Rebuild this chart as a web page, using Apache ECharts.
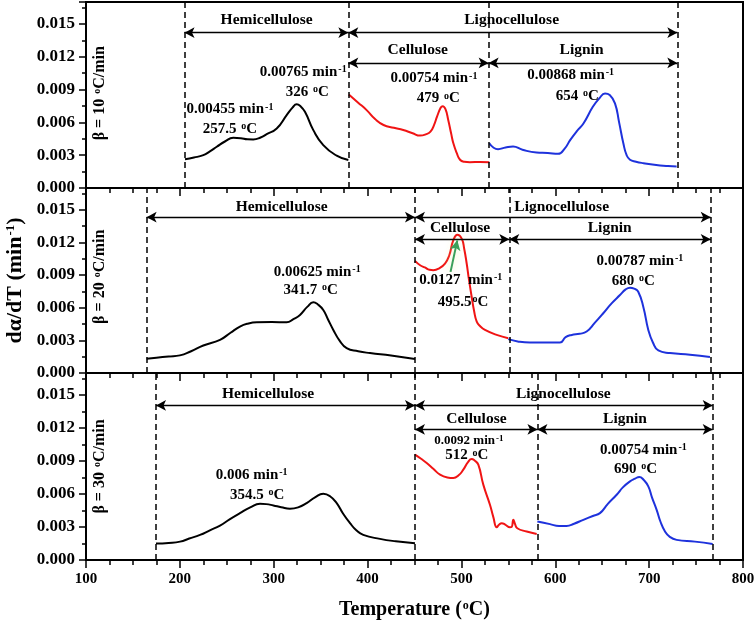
<!DOCTYPE html>
<html>
<head>
<meta charset="utf-8">
<script src="https://cdn.jsdelivr.net/npm/echarts@6/dist/echarts.min.js"></script>
<style>html,body{margin:0;padding:0;background:#fff}#c{width:756px;height:628px}</style>
</head>
<body>
<div id="c"></div>
<script>
// ---------- data ----------
const panelRates = ['β = 10 {s|o}C/min', 'β = 20 {s|o}C/min', 'β = 30 {s|o}C/min'];
const yTickValues = [0, 0.003, 0.006, 0.009, 0.012, 0.015];

// Panel 1 (10 °C/min)
const p1Hemi = [[205.5,0.00262],[215,0.00278],[225,0.00301],[232,0.00335],[239.3,0.00377],[248,0.00425],[256.9,0.00459],[265,0.00455],[272,0.00445],[278.2,0.00444],[286,0.00462],[292.5,0.00492],[303.2,0.00544],[313.8,0.00666],[320,0.00735],[324.5,0.00766],[328,0.00752],[333.3,0.00696],[342.2,0.00529],[352.8,0.00392],[367.1,0.00295],[379.5,0.00255]];
const p1Cell = [[380,0.00855],[390,0.0078],[399,0.00712],[408,0.0063],[417,0.00576],[428,0.0055],[438,0.0053],[448,0.005],[456,0.00479],[462,0.0049],[467,0.00515],[471,0.0058],[474,0.00652],[478,0.00735],[480,0.00748],[483,0.0072],[486,0.0062],[489,0.005],[491.4,0.00409],[495,0.0032],[498.5,0.00258],[503,0.0024],[509,0.00236],[520,0.00238],[529.7,0.00236]];
const p1Lig = [[529.7,0.00409],[534,0.0037],[539,0.00355],[547,0.0037],[555,0.00379],[565,0.0035],[580,0.00324],[592,0.0032],[603,0.00312],[610,0.0036],[616,0.0044],[623,0.0052],[630,0.0059],[640,0.00742],[647,0.0082],[653,0.00864],[658,0.0085],[663.6,0.00773],[668,0.006],[672.5,0.00409],[676,0.003],[679.6,0.00258],[686,0.0024],[694,0.00227],[711.6,0.00206],[720,0.002],[729.3,0.00197]];
const p1Bounds = [205, 379.5, 529, 730];

// Panel 2 (20 °C/min)
const p2Hemi = [[164.6,0.0013],[175,0.0014],[188,0.00152],[200,0.00162],[212,0.002],[225,0.00253],[242.8,0.00305],[254,0.0037],[264,0.00427],[273,0.00455],[282,0.00466],[298,0.00468],[313.8,0.00466],[321,0.00495],[328,0.00534],[336,0.0061],[342.2,0.0065],[347,0.0063],[352.8,0.00579],[358,0.0049],[363.5,0.00396],[370,0.003],[377.7,0.00229],[390,0.002],[402.6,0.00183],[425,0.0016],[450.5,0.00128]];
const p2Cell = [[450.5,0.0103],[456,0.0099],[461,0.0097],[466,0.00948],[470,0.00945],[476,0.0096],[482.5,0.01006],[487,0.0108],[491.4,0.0122],[495.6,0.01271],[500.3,0.01235],[503,0.0114],[505.6,0.01006],[508,0.0086],[510.9,0.00701],[513.5,0.0057],[516.3,0.00473],[520,0.0043],[525.1,0.00396],[537.5,0.0035],[549.9,0.0032]];
const p2Lig = [[549.9,0.00311],[560,0.0029],[573,0.0028],[590,0.0028],[605,0.0028],[611,0.0033],[617.5,0.0035],[626,0.0036],[633.4,0.00381],[642,0.0046],[651.1,0.00549],[660,0.0064],[668.9,0.00716],[675,0.00768],[679.6,0.00784],[684,0.00775],[688.4,0.00747],[694,0.006],[699.1,0.00396],[704,0.0028],[709.8,0.00207],[722.2,0.00183],[743.5,0.00168],[764.8,0.00146]];
const p2Bounds = [164.6, 450.5, 551, 765.6];

// Panel 3 (30 °C/min)
const p3Hemi = [[174.6,0.0015],[188,0.00155],[200.2,0.00167],[210,0.00195],[221.5,0.00228],[232,0.0027],[242.8,0.00313],[253,0.0037],[264,0.00426],[275,0.00478],[285.4,0.00511],[292,0.00508],[299.6,0.00496],[308,0.0048],[317.3,0.00466],[326,0.00478],[335.1,0.00517],[344,0.0057],[352.8,0.00602],[360,0.0058],[367.1,0.00517],[374,0.0042],[381.3,0.00335],[388,0.0027],[395.4,0.00228],[413.2,0.00192],[430,0.0017],[450.5,0.00152]];
const p3Cell = [[450.5,0.00958],[457,0.0092],[463,0.00882],[470,0.0083],[477.2,0.00776],[485,0.0075],[491.4,0.00745],[497,0.0077],[502,0.00821],[507,0.0089],[510.9,0.00919],[514,0.00905],[518,0.00867],[523.3,0.00685],[530.4,0.00502],[534,0.0039],[537.6,0.00298],[540,0.0032],[542.9,0.00335],[547,0.0032],[551.7,0.00298],[553.5,0.003],[555.3,0.00365],[557,0.0033],[559.5,0.00289],[569.5,0.00259],[580.2,0.00237]];
const p3Lig = [[580.9,0.0035],[594.3,0.00326],[604,0.0031],[612.1,0.0031],[620,0.0033],[629.9,0.00365],[640,0.004],[647.6,0.00426],[656,0.0051],[665.4,0.00593],[672,0.0066],[679.6,0.00715],[685,0.0074],[689.5,0.00755],[694,0.0073],[699.1,0.00669],[703,0.0057],[708,0.00456],[712,0.0035],[716.9,0.00259],[722,0.0021],[729.3,0.00183],[748.8,0.00167],[767.7,0.00146]];
const p3Bounds = [174.6, 450.5, 581, 767.7];

// bracket levels: [outer arrow y, inner arrow y]
const p1Levels = [0.0142, 0.01143];
const p2Levels = [0.01432, 0.01228];
const p3Levels = [0.01405, 0.01187];

// region names [x, y, text]
const p1Regions = [[292.5,0.01532,'Hemicellulose'],[553.5,0.01532,'Lignocellulose'],[453.4,0.01258,'Cellulose'],[628,0.01258,'Lignin']];
const p2Regions = [[308.5,0.01524,'Hemicellulose'],[606.8,0.01524,'Lignocellulose'],[498.5,0.01332,'Cellulose'],[658,0.01332,'Lignin']];
const p3Regions = [[294,0.01506,'Hemicellulose'],[608.5,0.01506,'Lignocellulose'],[516,0.01278,'Cellulose'],[674.3,0.01278,'Lignin']];

// peak annotations [x, y, text]
const p1Notes = [[253.4,0.00718,'0.00455 min{s|-1}'],[253.4,0.00538,'257.5 {s|o}C'],[331.5,0.0106,'0.00765 min{s|-1}'],[335.8,0.00878,'326 {s|o}C'],[470.8,0.0100,'0.00754 min{s|-1}'],[475.4,0.00818,'479 {s|o}C'],[616.4,0.0103,'0.00868 min{s|-1}'],[623.5,0.00842,'654 {s|o}C']];
const p2Notes = [[346.4,0.00929,'0.00625 min{s|-1}'],[339.4,0.00762,'341.7 {s|o}C'],[499.2,0.00853,'0.0127  min{s|-1}'],[501.7,0.00655,'495.5{s|o}C'],[690.2,0.0103,'0.00787 min{s|-1}'],[683.1,0.00847,'680 {s|o}C']];
const p3Notes = [[276.5,0.00776,'0.006 min{s|-1}'],[282.5,0.00593,'354.5 {s|o}C'],[508,0.01086,'0.0092 min{s|-1}',13],[505.6,0.00949,'512 {s|o}C'],[693.8,0.00998,'0.00754 min{s|-1}'],[685.6,0.00828,'690 {s|o}C']];
const p2Pointer = [[488.4,0.00929],[495.6,0.01219]];

const ratePos = [[114.9,0.00866],[114.9,0.00884],[114.9,0.0085]];

// ---------- chart ----------
const FONT = 'Liberation Serif';
const YMAX = 0.017;
const supStyle = (size) => ({fontSize: size, fontWeight: 'bold', fontFamily: FONT, color: '#000', verticalAlign: 'top', textBorderWidth: 0, padding: [0, 0, 0, 1]});
const rich = {s: supStyle(10)};
const gridsPos = [{top: 2, height: 186}, {top: 188, height: 185}, {top: 373, height: 187}];

const panels = [
  {hemi: p1Hemi, cell: p1Cell, lig: p1Lig, bounds: p1Bounds, levels: p1Levels, regions: p1Regions, notes: p1Notes},
  {hemi: p2Hemi, cell: p2Cell, lig: p2Lig, bounds: p2Bounds, levels: p2Levels, regions: p2Regions, notes: p2Notes},
  {hemi: p3Hemi, cell: p3Cell, lig: p3Lig, bounds: p3Bounds, levels: p3Levels, regions: p3Regions, notes: p3Notes}
];

const grid = gridsPos.map(g => ({left: 86, right: 13, top: g.top, height: g.height, show: true, borderColor: '#000', borderWidth: 2, backgroundColor: 'transparent', containLabel: false, outerBoundsMode: 'none'}));

const xAxis = gridsPos.map((g, i) => ({
  type: 'value', gridIndex: i, min: 100, max: 800, interval: 100,
  axisLine: {show: true, lineStyle: {color: '#000', width: 2}},
  axisTick: {show: true, length: 8, lineStyle: {color: '#000', width: 1.5}},
  minorTick: {show: true, splitNumber: 4, length: 5, lineStyle: {color: '#000', width: 1.5}},
  splitLine: {show: false},
  axisLabel: {show: i === 2, margin: 12, fontFamily: FONT, fontWeight: 'bold', fontSize: 15, color: '#000'},
  name: i === 2 ? 'Temperature ({s|o}C)' : '',
  nameLocation: 'middle', nameGap: 40,
  nameTextStyle: {fontFamily: FONT, fontWeight: 'bold', fontSize: 20, color: '#000', rich: {s: supStyle(12)}}
}));

const yAxis = gridsPos.map((g, i) => ({
  type: 'value', gridIndex: i, min: 0, max: YMAX, interval: 0.003,
  axisLine: {show: true, lineStyle: {color: '#000', width: 2}},
  axisTick: {show: true, length: 7, lineStyle: {color: '#000', width: 1.5}},
  minorTick: {show: true, splitNumber: 2, length: 4, lineStyle: {color: '#000', width: 1.5}},
  splitLine: {show: false},
  axisLabel: {showMaxLabel: false, margin: 11, fontFamily: FONT, fontWeight: 'bold', fontSize: 17, color: '#000',
    formatter: v => yTickValues.some(t => Math.abs(t - v) < 1e-9) ? v.toFixed(3) : ''},
  name: i === 1 ? 'dα/dT (min{s|-1})' : '',
  nameLocation: 'middle', nameGap: 57,
  nameTextStyle: {fontFamily: FONT, fontWeight: 'bold', fontSize: 22, color: '#000', rich: {s: supStyle(13)}}
}));

const series = [];
const lineBase = (i, data, color) => ({
  type: 'line', xAxisIndex: i, yAxisIndex: i, data, showSymbol: false, smooth: 0.5,
  lineStyle: {color, width: 2}, itemStyle: {color}, z: 3, silent: true
});
const labelBase = (fontSize) => ({show: true, position: 'inside', formatter: p => p.name, fontFamily: FONT, fontWeight: 'bold', fontSize, color: '#000', opacity: 1, textBorderWidth: 0, textBorderColor: 'transparent', rich});
const textSeries = (i, items, fontSize, extraLabel) => ({
  type: 'scatter', xAxisIndex: i, yAxisIndex: i, symbolSize: 0, silent: true, z: 6,
  itemStyle: {color: '#000', opacity: 1},
  data: items.map(d => {
    const o = {value: [d[0], d[1]], name: d[2]};
    if (d[3]) o.label = {fontSize: d[3], rich: {s: supStyle(9)}};
    return o;
  }),
  label: Object.assign(labelBase(fontSize), extraLabel || {}),
  labelLayout: {hideOverlap: false}
});

panels.forEach((p, i) => {
  const b = p.bounds, L = p.levels;
  const dashed = b.map(x => [{coord: [x, 0]}, {coord: [x, YMAX]}]);
  const arrows = [
    [{coord: [b[0], L[0]]}, {coord: [b[1], L[0]]}],
    [{coord: [b[1], L[0]]}, {coord: [b[3], L[0]]}],
    [{coord: [b[1], L[1]]}, {coord: [b[2], L[1]]}],
    [{coord: [b[2], L[1]]}, {coord: [b[3], L[1]]}]
  ];
  series.push(lineBase(i, p.hemi, '#000'));
  series.push(lineBase(i, p.cell, '#f01414'));
  series.push(lineBase(i, p.lig, '#1e32dc'));
  series.push({
    type: 'line', xAxisIndex: i, yAxisIndex: i, data: [], silent: true,
    markLine: {silent: true, symbol: ['none', 'none'], label: {show: false}, animation: false,
      lineStyle: {color: '#000', type: [6, 4], width: 1.5}, data: dashed}
  });
  series.push({
    type: 'line', xAxisIndex: i, yAxisIndex: i, data: [], silent: true,
    markLine: {silent: true, symbol: ['arrow', 'arrow'], symbolSize: [8, 10], label: {show: false}, animation: false,
      lineStyle: {color: '#000', type: 'solid', width: 1.3}, data: arrows}
  });
  series.push(textSeries(i, p.regions, 15.5));
  series.push(textSeries(i, p.notes, 15));
  series.push(textSeries(i, [[ratePos[i][0], ratePos[i][1], panelRates[i]]], 16, {rotate: 90}));
});

// green pointer in panel 2
series.push({
  type: 'line', xAxisIndex: 1, yAxisIndex: 1, data: [], silent: true, z: 5,
  markLine: {silent: true, symbol: ['none', 'arrow'], symbolSize: [8, 10], label: {show: false}, animation: false,
    lineStyle: {color: '#3c9f5a', type: 'solid', width: 2, shadowColor: 'rgba(240,240,150,0.9)', shadowBlur: 8},
    data: [[{coord: p2Pointer[0]}, {coord: p2Pointer[1]}]]}
});

const chart = echarts.init(document.getElementById('c'), null, {renderer: 'canvas'});
chart.setOption({animation: false, backgroundColor: '#fff', grid, xAxis, yAxis, series});
</script>
</body>
</html>
